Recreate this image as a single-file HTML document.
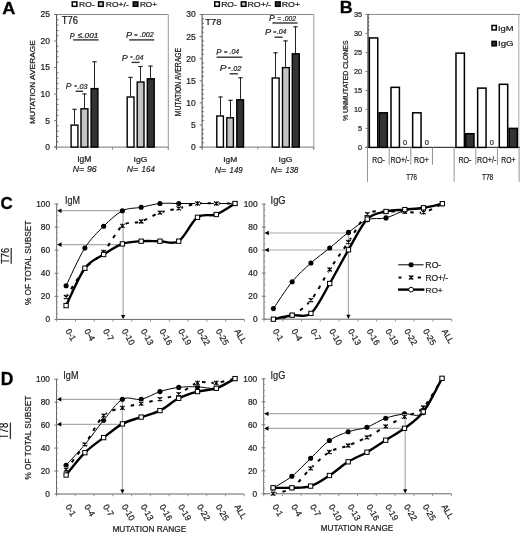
<!DOCTYPE html>
<html><head><meta charset="utf-8"><style>
html,body{margin:0;padding:0;background:#fff;}
body{width:520px;height:533px;overflow:hidden;}
svg{display:block;font-family:"Liberation Sans", sans-serif;filter:blur(0.3px);}
text{stroke:#222;stroke-width:0.22px;}
</style></head><body>
<svg width="520" height="533" viewBox="0 0 520 533" fill="#111">
<text x="2.2" y="13.95" font-size="17.3" font-weight="bold" fill="#000" textLength="13.13" lengthAdjust="spacingAndGlyphs" style="stroke:#000;stroke-width:0.3px">A</text>
<text x="339.85" y="13.2" font-size="17.08" font-weight="bold" fill="#000" textLength="12.9" lengthAdjust="spacingAndGlyphs" style="stroke:#000;stroke-width:0.3px">B</text>
<text x="0.55" y="209.28" font-size="17.23" font-weight="bold" fill="#000" textLength="12.25" lengthAdjust="spacingAndGlyphs" style="stroke:#000;stroke-width:0.3px">C</text>
<text x="0.68" y="385.35" font-size="17.59" font-weight="bold" fill="#000" textLength="12.6" lengthAdjust="spacingAndGlyphs" style="stroke:#000;stroke-width:0.3px">D</text>
<rect x="72.25" y="1.9" width="4.6" height="4.4" fill="#fff" stroke="#000" stroke-width="1.5"/>
<text x="79.1" y="6.6" font-size="7.7" textLength="15.68" lengthAdjust="spacingAndGlyphs">RO-</text>
<rect x="98.55" y="1.9" width="4.6" height="4.4" fill="#c8c8c8" stroke="#000" stroke-width="1.5"/>
<text x="105.8" y="6.6" font-size="7.7" textLength="22.98" lengthAdjust="spacingAndGlyphs">RO+/-</text>
<rect x="133.25" y="1.9" width="4.6" height="4.4" fill="#333" stroke="#000" stroke-width="1.5"/>
<text x="139.93" y="6.6" font-size="7.7" textLength="17.08" lengthAdjust="spacingAndGlyphs">RO+</text>
<rect x="214.75" y="1.9" width="4.6" height="4.4" fill="#fff" stroke="#000" stroke-width="1.5"/>
<text x="221.2" y="6.6" font-size="7.7" textLength="15.68" lengthAdjust="spacingAndGlyphs">RO-</text>
<rect x="241.35" y="1.9" width="4.6" height="4.4" fill="#c8c8c8" stroke="#000" stroke-width="1.5"/>
<text x="247.47" y="6.6" font-size="7.7" textLength="23.82" lengthAdjust="spacingAndGlyphs">RO+/-</text>
<rect x="275.55" y="1.9" width="4.6" height="4.4" fill="#333" stroke="#000" stroke-width="1.5"/>
<text x="281.78" y="6.6" font-size="7.7" textLength="18.25" lengthAdjust="spacingAndGlyphs">RO+</text>
<line x1="56.6" y1="14.5" x2="168.3" y2="14.5" stroke="#888" stroke-width="1"/>
<line x1="168.3" y1="14.5" x2="168.3" y2="149.6" stroke="#999" stroke-width="1"/>
<line x1="56.6" y1="14" x2="56.6" y2="149.6" stroke="#444" stroke-width="1"/>
<line x1="54.1" y1="147.1" x2="168.3" y2="147.1" stroke="#777" stroke-width="1"/>
<line x1="54.1" y1="147.1" x2="56.6" y2="147.1" stroke="#777" stroke-width="1"/>
<line x1="54.1" y1="120.58" x2="56.6" y2="120.58" stroke="#777" stroke-width="1"/>
<line x1="54.1" y1="94.06" x2="56.6" y2="94.06" stroke="#777" stroke-width="1"/>
<line x1="54.1" y1="67.54" x2="56.6" y2="67.54" stroke="#777" stroke-width="1"/>
<line x1="54.1" y1="41.02" x2="56.6" y2="41.02" stroke="#777" stroke-width="1"/>
<line x1="54.1" y1="14.5" x2="56.6" y2="14.5" stroke="#777" stroke-width="1"/>
<line x1="56.6" y1="141.8" x2="58.4" y2="141.8" stroke="#555" stroke-width="0.9"/>
<line x1="56.6" y1="136.49" x2="58.4" y2="136.49" stroke="#555" stroke-width="0.9"/>
<line x1="56.6" y1="131.19" x2="58.4" y2="131.19" stroke="#555" stroke-width="0.9"/>
<line x1="56.6" y1="125.88" x2="58.4" y2="125.88" stroke="#555" stroke-width="0.9"/>
<line x1="56.6" y1="115.28" x2="58.4" y2="115.28" stroke="#555" stroke-width="0.9"/>
<line x1="56.6" y1="109.97" x2="58.4" y2="109.97" stroke="#555" stroke-width="0.9"/>
<line x1="56.6" y1="104.67" x2="58.4" y2="104.67" stroke="#555" stroke-width="0.9"/>
<line x1="56.6" y1="99.36" x2="58.4" y2="99.36" stroke="#555" stroke-width="0.9"/>
<line x1="56.6" y1="88.76" x2="58.4" y2="88.76" stroke="#555" stroke-width="0.9"/>
<line x1="56.6" y1="83.45" x2="58.4" y2="83.45" stroke="#555" stroke-width="0.9"/>
<line x1="56.6" y1="78.15" x2="58.4" y2="78.15" stroke="#555" stroke-width="0.9"/>
<line x1="56.6" y1="72.84" x2="58.4" y2="72.84" stroke="#555" stroke-width="0.9"/>
<line x1="56.6" y1="62.24" x2="58.4" y2="62.24" stroke="#555" stroke-width="0.9"/>
<line x1="56.6" y1="56.93" x2="58.4" y2="56.93" stroke="#555" stroke-width="0.9"/>
<line x1="56.6" y1="51.63" x2="58.4" y2="51.63" stroke="#555" stroke-width="0.9"/>
<line x1="56.6" y1="46.32" x2="58.4" y2="46.32" stroke="#555" stroke-width="0.9"/>
<line x1="56.6" y1="35.72" x2="58.4" y2="35.72" stroke="#555" stroke-width="0.9"/>
<line x1="56.6" y1="30.41" x2="58.4" y2="30.41" stroke="#555" stroke-width="0.9"/>
<line x1="56.6" y1="25.11" x2="58.4" y2="25.11" stroke="#555" stroke-width="0.9"/>
<line x1="56.6" y1="19.8" x2="58.4" y2="19.8" stroke="#555" stroke-width="0.9"/>
<line x1="112.5" y1="147.1" x2="112.5" y2="149.6" stroke="#888" stroke-width="1"/>
<line x1="168.3" y1="147.1" x2="168.3" y2="149.6" stroke="#888" stroke-width="1"/>
<text x="50" y="150.05" font-size="8.5" text-anchor="end" fill="#222">0</text>
<text x="50" y="123.53" font-size="8.5" text-anchor="end" fill="#222">5</text>
<text x="50" y="97.01" font-size="8.5" text-anchor="end" fill="#222">10</text>
<text x="50" y="70.49" font-size="8.5" text-anchor="end" fill="#222">15</text>
<text x="50" y="43.97" font-size="8.5" text-anchor="end" fill="#222">20</text>
<text x="50" y="17.45" font-size="8.5" text-anchor="end" fill="#222">25</text>
<text transform="translate(34.8 124.07) rotate(-90)" x="0" y="0" font-size="7.85" textLength="83.91" lengthAdjust="spacingAndGlyphs">MUTATION AVERAGE</text>
<text x="61.69" y="24.2" font-size="10.17" textLength="16.33" lengthAdjust="spacingAndGlyphs">T76</text>
<line x1="74.5" y1="108.8" x2="74.5" y2="124.4" stroke="#222" stroke-width="1"/>
<line x1="72.3" y1="109.3" x2="76.7" y2="109.3" stroke="#222" stroke-width="1.1"/>
<rect x="71.1" y="125.1" width="6.8" height="22" fill="#fff" stroke="#000" stroke-width="1.4"/>
<line x1="84.5" y1="93.5" x2="84.5" y2="108.1" stroke="#222" stroke-width="1"/>
<line x1="82.3" y1="94" x2="86.7" y2="94" stroke="#222" stroke-width="1.1"/>
<rect x="81" y="108.8" width="6.9" height="38.3" fill="#c4c4c4" stroke="#000" stroke-width="1.4"/>
<line x1="94.5" y1="61.3" x2="94.5" y2="87.9" stroke="#222" stroke-width="1"/>
<line x1="92.3" y1="61.8" x2="96.7" y2="61.8" stroke="#222" stroke-width="1.1"/>
<rect x="91.1" y="88.6" width="6.8" height="58.5" fill="#333" stroke="#000" stroke-width="1.4"/>
<line x1="130.5" y1="76.9" x2="130.5" y2="96.3" stroke="#222" stroke-width="1"/>
<line x1="128.3" y1="77.4" x2="132.7" y2="77.4" stroke="#222" stroke-width="1.1"/>
<rect x="127.2" y="97" width="6.8" height="50.1" fill="#fff" stroke="#000" stroke-width="1.4"/>
<line x1="140.5" y1="66" x2="140.5" y2="81.3" stroke="#222" stroke-width="1"/>
<line x1="138.3" y1="66.5" x2="142.7" y2="66.5" stroke="#222" stroke-width="1.1"/>
<rect x="137.2" y="82" width="6.8" height="65.1" fill="#c4c4c4" stroke="#000" stroke-width="1.4"/>
<line x1="150.5" y1="65.6" x2="150.5" y2="78.1" stroke="#222" stroke-width="1"/>
<line x1="148.3" y1="66.1" x2="152.7" y2="66.1" stroke="#222" stroke-width="1.1"/>
<rect x="147.3" y="78.8" width="6.9" height="68.3" fill="#333" stroke="#000" stroke-width="1.4"/>
<text x="69.78" y="38.6" font-size="9.74" textLength="4.87" lengthAdjust="spacingAndGlyphs" font-style="italic" fill="#222">P</text>
<text x="77.75" y="37.8" font-size="7.85" textLength="20.55" lengthAdjust="spacingAndGlyphs" font-style="italic" fill="#222">≤.001</text>
<line x1="73.2" y1="39.9" x2="98.6" y2="39.9" stroke="#333" stroke-width="1.4"/>
<text x="65.74" y="89.4" font-size="9.16" textLength="5.61" lengthAdjust="spacingAndGlyphs" font-style="italic" fill="#222">P</text>
<text x="74.2" y="88.09" font-size="6.21" textLength="2.7" lengthAdjust="spacingAndGlyphs" fill="#555">=</text>
<text x="77.52" y="88.7" font-size="7.7" textLength="10.05" lengthAdjust="spacingAndGlyphs" font-style="italic" fill="#222">.03</text>
<line x1="75.6" y1="91.25" x2="83.1" y2="91.25" stroke="#333" stroke-width="1.4"/>
<text x="126.12" y="38.2" font-size="9.01" textLength="6.04" lengthAdjust="spacingAndGlyphs" font-style="italic" fill="#222">P</text>
<text x="134.3" y="36.99" font-size="6.21" textLength="3.3" lengthAdjust="spacingAndGlyphs" fill="#555">=</text>
<text x="139.92" y="37.4" font-size="7.85" textLength="13.78" lengthAdjust="spacingAndGlyphs" font-style="italic" fill="#222">.002</text>
<line x1="129.2" y1="39.9" x2="154.2" y2="39.9" stroke="#333" stroke-width="1.4"/>
<text x="121.73" y="60.5" font-size="9.16" textLength="5.93" lengthAdjust="spacingAndGlyphs" font-style="italic" fill="#222">P</text>
<text x="130.2" y="58.69" font-size="6.21" textLength="2.4" lengthAdjust="spacingAndGlyphs" fill="#555">=</text>
<text x="133.52" y="59.6" font-size="7.85" textLength="9.95" lengthAdjust="spacingAndGlyphs" font-style="italic" fill="#222">.04</text>
<line x1="131.6" y1="62.4" x2="139.6" y2="62.4" stroke="#333" stroke-width="1.4"/>
<text x="77.21" y="161.6" font-size="8.14" textLength="14.18" lengthAdjust="spacingAndGlyphs" fill="#222">IgM</text>
<text x="72.83" y="172.2" font-size="9.3" textLength="11.37" lengthAdjust="spacingAndGlyphs" font-style="italic" fill="#222">N=</text>
<text x="86.9" y="172.2" font-size="9.3" textLength="9.7" lengthAdjust="spacingAndGlyphs" font-style="italic" fill="#222">96</text>
<text x="133.51" y="161.6" font-size="7.56" textLength="13.83" lengthAdjust="spacingAndGlyphs" fill="#222">IgG</text>
<text x="126.83" y="172.4" font-size="9.45" textLength="11.37" lengthAdjust="spacingAndGlyphs" font-style="italic" fill="#222">N=</text>
<text x="141.6" y="172.4" font-size="9.45" textLength="13.2" lengthAdjust="spacingAndGlyphs" font-style="italic" fill="#222">164</text>
<line x1="202.1" y1="14.5" x2="313.8" y2="14.5" stroke="#888" stroke-width="1"/>
<line x1="313.8" y1="14.5" x2="313.8" y2="149.6" stroke="#999" stroke-width="1"/>
<line x1="202.1" y1="14" x2="202.1" y2="149.6" stroke="#444" stroke-width="1"/>
<line x1="199.6" y1="147.1" x2="313.8" y2="147.1" stroke="#777" stroke-width="1"/>
<line x1="199.6" y1="147.1" x2="202.1" y2="147.1" stroke="#777" stroke-width="1"/>
<line x1="199.6" y1="125" x2="202.1" y2="125" stroke="#777" stroke-width="1"/>
<line x1="199.6" y1="102.9" x2="202.1" y2="102.9" stroke="#777" stroke-width="1"/>
<line x1="199.6" y1="80.8" x2="202.1" y2="80.8" stroke="#777" stroke-width="1"/>
<line x1="199.6" y1="58.7" x2="202.1" y2="58.7" stroke="#777" stroke-width="1"/>
<line x1="199.6" y1="36.6" x2="202.1" y2="36.6" stroke="#777" stroke-width="1"/>
<line x1="199.6" y1="14.5" x2="202.1" y2="14.5" stroke="#777" stroke-width="1"/>
<line x1="202.1" y1="142.68" x2="203.9" y2="142.68" stroke="#555" stroke-width="0.9"/>
<line x1="202.1" y1="138.26" x2="203.9" y2="138.26" stroke="#555" stroke-width="0.9"/>
<line x1="202.1" y1="133.84" x2="203.9" y2="133.84" stroke="#555" stroke-width="0.9"/>
<line x1="202.1" y1="129.42" x2="203.9" y2="129.42" stroke="#555" stroke-width="0.9"/>
<line x1="202.1" y1="120.58" x2="203.9" y2="120.58" stroke="#555" stroke-width="0.9"/>
<line x1="202.1" y1="116.16" x2="203.9" y2="116.16" stroke="#555" stroke-width="0.9"/>
<line x1="202.1" y1="111.74" x2="203.9" y2="111.74" stroke="#555" stroke-width="0.9"/>
<line x1="202.1" y1="107.32" x2="203.9" y2="107.32" stroke="#555" stroke-width="0.9"/>
<line x1="202.1" y1="98.48" x2="203.9" y2="98.48" stroke="#555" stroke-width="0.9"/>
<line x1="202.1" y1="94.06" x2="203.9" y2="94.06" stroke="#555" stroke-width="0.9"/>
<line x1="202.1" y1="89.64" x2="203.9" y2="89.64" stroke="#555" stroke-width="0.9"/>
<line x1="202.1" y1="85.22" x2="203.9" y2="85.22" stroke="#555" stroke-width="0.9"/>
<line x1="202.1" y1="76.38" x2="203.9" y2="76.38" stroke="#555" stroke-width="0.9"/>
<line x1="202.1" y1="71.96" x2="203.9" y2="71.96" stroke="#555" stroke-width="0.9"/>
<line x1="202.1" y1="67.54" x2="203.9" y2="67.54" stroke="#555" stroke-width="0.9"/>
<line x1="202.1" y1="63.12" x2="203.9" y2="63.12" stroke="#555" stroke-width="0.9"/>
<line x1="202.1" y1="54.28" x2="203.9" y2="54.28" stroke="#555" stroke-width="0.9"/>
<line x1="202.1" y1="49.86" x2="203.9" y2="49.86" stroke="#555" stroke-width="0.9"/>
<line x1="202.1" y1="45.44" x2="203.9" y2="45.44" stroke="#555" stroke-width="0.9"/>
<line x1="202.1" y1="41.02" x2="203.9" y2="41.02" stroke="#555" stroke-width="0.9"/>
<line x1="202.1" y1="32.18" x2="203.9" y2="32.18" stroke="#555" stroke-width="0.9"/>
<line x1="202.1" y1="27.76" x2="203.9" y2="27.76" stroke="#555" stroke-width="0.9"/>
<line x1="202.1" y1="23.34" x2="203.9" y2="23.34" stroke="#555" stroke-width="0.9"/>
<line x1="202.1" y1="18.92" x2="203.9" y2="18.92" stroke="#555" stroke-width="0.9"/>
<line x1="257.8" y1="147.1" x2="257.8" y2="149.6" stroke="#888" stroke-width="1"/>
<line x1="313.8" y1="147.1" x2="313.8" y2="149.6" stroke="#888" stroke-width="1"/>
<text x="195.8" y="150.05" font-size="8.5" text-anchor="end" fill="#222">0</text>
<text x="195.8" y="127.95" font-size="8.5" text-anchor="end" fill="#222">5</text>
<text x="195.8" y="105.85" font-size="8.5" text-anchor="end" fill="#222">10</text>
<text x="195.8" y="83.75" font-size="8.5" text-anchor="end" fill="#222">15</text>
<text x="195.8" y="61.65" font-size="8.5" text-anchor="end" fill="#222">20</text>
<text x="195.8" y="39.55" font-size="8.5" text-anchor="end" fill="#222">25</text>
<text x="195.8" y="17.45" font-size="8.5" text-anchor="end" fill="#222">30</text>
<text transform="translate(180.8 116.24) rotate(-90)" x="0" y="0" font-size="8.72" textLength="68.33" lengthAdjust="spacingAndGlyphs">MUTATION AVERAGE</text>
<text x="205.19" y="24.6" font-size="9.74" textLength="16.22" lengthAdjust="spacingAndGlyphs">T78</text>
<line x1="220.5" y1="96.5" x2="220.5" y2="115.3" stroke="#222" stroke-width="1"/>
<line x1="218.3" y1="97" x2="222.7" y2="97" stroke="#222" stroke-width="1.1"/>
<rect x="216.8" y="116" width="6.6" height="31.1" fill="#fff" stroke="#000" stroke-width="1.4"/>
<line x1="230.5" y1="99.8" x2="230.5" y2="117.1" stroke="#222" stroke-width="1"/>
<line x1="228.3" y1="100.3" x2="232.7" y2="100.3" stroke="#222" stroke-width="1.1"/>
<rect x="226.8" y="117.8" width="6.6" height="29.3" fill="#c4c4c4" stroke="#000" stroke-width="1.4"/>
<line x1="240.5" y1="77.3" x2="240.5" y2="99.1" stroke="#222" stroke-width="1"/>
<line x1="238.3" y1="77.8" x2="242.7" y2="77.8" stroke="#222" stroke-width="1.1"/>
<rect x="236.8" y="99.8" width="6.7" height="47.3" fill="#333" stroke="#000" stroke-width="1.4"/>
<line x1="275.5" y1="52.3" x2="275.5" y2="77.3" stroke="#222" stroke-width="1"/>
<line x1="273.3" y1="52.8" x2="277.7" y2="52.8" stroke="#222" stroke-width="1.1"/>
<rect x="272.2" y="78" width="6.9" height="69.1" fill="#fff" stroke="#000" stroke-width="1.4"/>
<line x1="285.5" y1="40.4" x2="285.5" y2="66.9" stroke="#222" stroke-width="1"/>
<line x1="283.3" y1="40.9" x2="287.7" y2="40.9" stroke="#222" stroke-width="1.1"/>
<rect x="282.5" y="67.6" width="6.8" height="79.5" fill="#c4c4c4" stroke="#000" stroke-width="1.4"/>
<line x1="295.5" y1="26.3" x2="295.5" y2="53.1" stroke="#222" stroke-width="1"/>
<line x1="293.3" y1="26.8" x2="297.7" y2="26.8" stroke="#222" stroke-width="1.1"/>
<rect x="292.3" y="53.8" width="7" height="93.3" fill="#333" stroke="#000" stroke-width="1.4"/>
<text x="216.16" y="54.9" font-size="9.3" textLength="5.19" lengthAdjust="spacingAndGlyphs" font-style="italic" fill="#222">P</text>
<text x="223.9" y="53.66" font-size="6" textLength="3.4" lengthAdjust="spacingAndGlyphs" fill="#555">=</text>
<text x="229.53" y="54.3" font-size="7.99" textLength="9.63" lengthAdjust="spacingAndGlyphs" font-style="italic" fill="#222">.04</text>
<line x1="216.6" y1="57.2" x2="242.4" y2="57.2" stroke="#333" stroke-width="1.4"/>
<text x="219.89" y="71" font-size="8.58" textLength="6.67" lengthAdjust="spacingAndGlyphs" font-style="italic" fill="#222">P</text>
<text x="227.9" y="70.09" font-size="6.21" textLength="2.7" lengthAdjust="spacingAndGlyphs" fill="#555">=</text>
<text x="231.22" y="70.5" font-size="7.41" textLength="10.09" lengthAdjust="spacingAndGlyphs" font-style="italic" fill="#222">.02</text>
<line x1="229.6" y1="73.8" x2="237.9" y2="73.8" stroke="#333" stroke-width="1.4"/>
<text x="269.03" y="21.3" font-size="8.43" textLength="5.82" lengthAdjust="spacingAndGlyphs" font-style="italic" fill="#222">P</text>
<text x="277.6" y="20.75" font-size="7.14" textLength="3.5" lengthAdjust="spacingAndGlyphs" fill="#555">=</text>
<text x="282.94" y="20.6" font-size="7.41" textLength="13.16" lengthAdjust="spacingAndGlyphs" font-style="italic" fill="#222">.002</text>
<line x1="272.4" y1="23" x2="297.6" y2="23" stroke="#333" stroke-width="1.4"/>
<text x="265.02" y="35.2" font-size="9.01" textLength="6.14" lengthAdjust="spacingAndGlyphs" font-style="italic" fill="#222">P</text>
<text x="273.2" y="33.66" font-size="6" textLength="3.1" lengthAdjust="spacingAndGlyphs" fill="#555">=</text>
<text x="276.73" y="33.7" font-size="6.83" textLength="9.63" lengthAdjust="spacingAndGlyphs" font-style="italic" fill="#222">.04</text>
<line x1="274.6" y1="37.2" x2="282.6" y2="37.2" stroke="#333" stroke-width="1.4"/>
<text x="223.22" y="161.9" font-size="7.56" textLength="14.07" lengthAdjust="spacingAndGlyphs" fill="#222">IgM</text>
<text x="214.83" y="172.5" font-size="9.59" textLength="11.37" lengthAdjust="spacingAndGlyphs" font-style="italic" fill="#222">N=</text>
<text x="229.6" y="172.5" font-size="9.59" textLength="13.06" lengthAdjust="spacingAndGlyphs" font-style="italic" fill="#222">149</text>
<text x="278.61" y="161.8" font-size="7.41" textLength="13.83" lengthAdjust="spacingAndGlyphs" fill="#222">IgG</text>
<text x="270.73" y="172.6" font-size="9.59" textLength="11.37" lengthAdjust="spacingAndGlyphs" font-style="italic" fill="#222">N=</text>
<text x="285.5" y="172.6" font-size="9.59" textLength="12.84" lengthAdjust="spacingAndGlyphs" font-style="italic" fill="#222">138</text>
<line x1="368" y1="14.4" x2="520" y2="14.4" stroke="#888" stroke-width="1"/>
<line x1="518.8" y1="14.4" x2="518.8" y2="147.4" stroke="#aaa" stroke-width="1"/>
<line x1="368" y1="13.9" x2="368" y2="147.4" stroke="#222" stroke-width="1.1"/>
<line x1="365.5" y1="147.4" x2="520" y2="147.4" stroke="#444" stroke-width="1.2"/>
<line x1="365.5" y1="147.4" x2="368" y2="147.4" stroke="#777" stroke-width="1"/>
<text x="362" y="149.95" font-size="7.3" text-anchor="end" fill="#222">0</text>
<line x1="368" y1="143.6" x2="369.5" y2="143.6" stroke="#555" stroke-width="0.8"/>
<line x1="368" y1="139.8" x2="369.5" y2="139.8" stroke="#555" stroke-width="0.8"/>
<line x1="368" y1="136" x2="369.5" y2="136" stroke="#555" stroke-width="0.8"/>
<line x1="368" y1="132.2" x2="369.5" y2="132.2" stroke="#555" stroke-width="0.8"/>
<line x1="365.5" y1="128.4" x2="368" y2="128.4" stroke="#777" stroke-width="1"/>
<text x="362" y="130.95" font-size="7.3" text-anchor="end" fill="#222">5</text>
<line x1="368" y1="124.6" x2="369.5" y2="124.6" stroke="#555" stroke-width="0.8"/>
<line x1="368" y1="120.8" x2="369.5" y2="120.8" stroke="#555" stroke-width="0.8"/>
<line x1="368" y1="117" x2="369.5" y2="117" stroke="#555" stroke-width="0.8"/>
<line x1="368" y1="113.2" x2="369.5" y2="113.2" stroke="#555" stroke-width="0.8"/>
<line x1="365.5" y1="109.4" x2="368" y2="109.4" stroke="#777" stroke-width="1"/>
<text x="362" y="111.95" font-size="7.3" text-anchor="end" fill="#222">10</text>
<line x1="368" y1="105.6" x2="369.5" y2="105.6" stroke="#555" stroke-width="0.8"/>
<line x1="368" y1="101.8" x2="369.5" y2="101.8" stroke="#555" stroke-width="0.8"/>
<line x1="368" y1="98" x2="369.5" y2="98" stroke="#555" stroke-width="0.8"/>
<line x1="368" y1="94.2" x2="369.5" y2="94.2" stroke="#555" stroke-width="0.8"/>
<line x1="365.5" y1="90.4" x2="368" y2="90.4" stroke="#777" stroke-width="1"/>
<text x="362" y="92.95" font-size="7.3" text-anchor="end" fill="#222">15</text>
<line x1="368" y1="86.6" x2="369.5" y2="86.6" stroke="#555" stroke-width="0.8"/>
<line x1="368" y1="82.8" x2="369.5" y2="82.8" stroke="#555" stroke-width="0.8"/>
<line x1="368" y1="79" x2="369.5" y2="79" stroke="#555" stroke-width="0.8"/>
<line x1="368" y1="75.2" x2="369.5" y2="75.2" stroke="#555" stroke-width="0.8"/>
<line x1="365.5" y1="71.4" x2="368" y2="71.4" stroke="#777" stroke-width="1"/>
<text x="362" y="73.95" font-size="7.3" text-anchor="end" fill="#222">20</text>
<line x1="368" y1="67.6" x2="369.5" y2="67.6" stroke="#555" stroke-width="0.8"/>
<line x1="368" y1="63.8" x2="369.5" y2="63.8" stroke="#555" stroke-width="0.8"/>
<line x1="368" y1="60" x2="369.5" y2="60" stroke="#555" stroke-width="0.8"/>
<line x1="368" y1="56.2" x2="369.5" y2="56.2" stroke="#555" stroke-width="0.8"/>
<line x1="365.5" y1="52.4" x2="368" y2="52.4" stroke="#777" stroke-width="1"/>
<text x="362" y="54.95" font-size="7.3" text-anchor="end" fill="#222">25</text>
<line x1="368" y1="48.6" x2="369.5" y2="48.6" stroke="#555" stroke-width="0.8"/>
<line x1="368" y1="44.8" x2="369.5" y2="44.8" stroke="#555" stroke-width="0.8"/>
<line x1="368" y1="41" x2="369.5" y2="41" stroke="#555" stroke-width="0.8"/>
<line x1="368" y1="37.2" x2="369.5" y2="37.2" stroke="#555" stroke-width="0.8"/>
<line x1="365.5" y1="33.4" x2="368" y2="33.4" stroke="#777" stroke-width="1"/>
<text x="362" y="35.95" font-size="7.3" text-anchor="end" fill="#222">30</text>
<line x1="368" y1="29.6" x2="369.5" y2="29.6" stroke="#555" stroke-width="0.8"/>
<line x1="368" y1="25.8" x2="369.5" y2="25.8" stroke="#555" stroke-width="0.8"/>
<line x1="368" y1="22" x2="369.5" y2="22" stroke="#555" stroke-width="0.8"/>
<line x1="368" y1="18.2" x2="369.5" y2="18.2" stroke="#555" stroke-width="0.8"/>
<line x1="365.5" y1="14.4" x2="368" y2="14.4" stroke="#777" stroke-width="1"/>
<text x="362" y="16.95" font-size="7.3" text-anchor="end" fill="#222">35</text>
<text transform="translate(347.9 121.04) rotate(-90)" x="0" y="0" font-size="7.7" textLength="80.56" lengthAdjust="spacingAndGlyphs">% UNMUTATED CLONES</text>
<rect x="369.35" y="37.95" width="8.4" height="109.45" fill="#fff" stroke="#000" stroke-width="1.5"/>
<rect x="379.15" y="112.81" width="8.2" height="34.59" fill="#333" stroke="#000" stroke-width="1.5"/>
<rect x="391.01" y="87.35" width="8.4" height="60.05" fill="#fff" stroke="#000" stroke-width="1.5"/>
<text x="405.16" y="144.5" font-size="7.4" text-anchor="middle" fill="#333">0</text>
<rect x="412.66" y="112.81" width="8.4" height="34.59" fill="#fff" stroke="#000" stroke-width="1.5"/>
<text x="426.81" y="144.5" font-size="7.4" text-anchor="middle" fill="#333">0</text>
<rect x="455.98" y="53.15" width="8.4" height="94.25" fill="#fff" stroke="#000" stroke-width="1.5"/>
<rect x="465.78" y="133.71" width="8.2" height="13.69" fill="#333" stroke="#000" stroke-width="1.5"/>
<rect x="477.64" y="88.11" width="8.4" height="59.29" fill="#fff" stroke="#000" stroke-width="1.5"/>
<text x="491.79" y="144.5" font-size="7.4" text-anchor="middle" fill="#333">0</text>
<rect x="499.29" y="84.31" width="8.4" height="63.09" fill="#fff" stroke="#000" stroke-width="1.5"/>
<rect x="509.09" y="128.39" width="8.2" height="19.01" fill="#333" stroke="#000" stroke-width="1.5"/>
<line x1="367.5" y1="147.4" x2="367.5" y2="181.8" stroke="#888" stroke-width="0.9"/>
<line x1="389.16" y1="147.4" x2="389.16" y2="164.8" stroke="#888" stroke-width="0.9"/>
<line x1="410.81" y1="147.4" x2="410.81" y2="164.8" stroke="#888" stroke-width="0.9"/>
<line x1="432.47" y1="147.4" x2="432.47" y2="164.8" stroke="#888" stroke-width="0.9"/>
<line x1="454.13" y1="147.4" x2="454.13" y2="181.8" stroke="#888" stroke-width="0.9"/>
<line x1="475.79" y1="147.4" x2="475.79" y2="164.8" stroke="#888" stroke-width="0.9"/>
<line x1="497.44" y1="147.4" x2="497.44" y2="164.8" stroke="#888" stroke-width="0.9"/>
<line x1="519.1" y1="147.4" x2="519.1" y2="181.8" stroke="#888" stroke-width="0.9"/>
<text x="372.34" y="163.1" font-size="8.14" textLength="12.57" lengthAdjust="spacingAndGlyphs" fill="#222">RO-</text>
<text x="390.53" y="163.1" font-size="8.14" textLength="18.89" lengthAdjust="spacingAndGlyphs" fill="#222">RO+/-</text>
<text x="414.12" y="163.1" font-size="8.14" textLength="14.62" lengthAdjust="spacingAndGlyphs" fill="#222">RO+</text>
<text x="458.41" y="163.1" font-size="8.14" textLength="13.1" lengthAdjust="spacingAndGlyphs" fill="#222">RO-</text>
<text x="477.12" y="163.1" font-size="8.14" textLength="19.2" lengthAdjust="spacingAndGlyphs" fill="#222">RO+/-</text>
<text x="501.34" y="163.1" font-size="8.14" textLength="14.19" lengthAdjust="spacingAndGlyphs" fill="#222">RO+</text>
<text x="406.26" y="179.7" font-size="8.58" textLength="10.82" lengthAdjust="spacingAndGlyphs" fill="#222">T76</text>
<text x="481.95" y="179.7" font-size="8.58" textLength="11.23" lengthAdjust="spacingAndGlyphs" fill="#222">T78</text>
<rect x="492" y="25.5" width="4.3" height="4.4" fill="#fff" stroke="#000" stroke-width="1.5"/>
<text x="498.03" y="30.8" font-size="7.85" textLength="15.63" lengthAdjust="spacingAndGlyphs" fill="#222">IgM</text>
<rect x="492" y="41.4" width="4.3" height="4.4" fill="#333" stroke="#000" stroke-width="1.5"/>
<text x="498.01" y="46.2" font-size="7.85" textLength="15.62" lengthAdjust="spacingAndGlyphs" fill="#222">IgG</text>
<line x1="56.7" y1="203.7" x2="56.7" y2="319.4" stroke="#666" stroke-width="1"/>
<line x1="56.7" y1="319.4" x2="244.4" y2="319.4" stroke="#666" stroke-width="1"/>
<line x1="54.5" y1="319.4" x2="58.5" y2="319.4" stroke="#777" stroke-width="1"/>
<text x="50" y="322.25" font-size="8.3" text-anchor="end" fill="#222">0</text>
<line x1="56.7" y1="313.63" x2="58.3" y2="313.63" stroke="#999" stroke-width="0.8"/>
<line x1="56.7" y1="307.86" x2="58.3" y2="307.86" stroke="#999" stroke-width="0.8"/>
<line x1="56.7" y1="302.09" x2="58.3" y2="302.09" stroke="#999" stroke-width="0.8"/>
<line x1="54.5" y1="296.32" x2="58.5" y2="296.32" stroke="#777" stroke-width="1"/>
<text x="50" y="299.17" font-size="8.3" text-anchor="end" fill="#222">20</text>
<line x1="56.7" y1="290.55" x2="58.3" y2="290.55" stroke="#999" stroke-width="0.8"/>
<line x1="56.7" y1="284.78" x2="58.3" y2="284.78" stroke="#999" stroke-width="0.8"/>
<line x1="56.7" y1="279.01" x2="58.3" y2="279.01" stroke="#999" stroke-width="0.8"/>
<line x1="54.5" y1="273.24" x2="58.5" y2="273.24" stroke="#777" stroke-width="1"/>
<text x="50" y="276.09" font-size="8.3" text-anchor="end" fill="#222">40</text>
<line x1="56.7" y1="267.47" x2="58.3" y2="267.47" stroke="#999" stroke-width="0.8"/>
<line x1="56.7" y1="261.7" x2="58.3" y2="261.7" stroke="#999" stroke-width="0.8"/>
<line x1="56.7" y1="255.93" x2="58.3" y2="255.93" stroke="#999" stroke-width="0.8"/>
<line x1="54.5" y1="250.16" x2="58.5" y2="250.16" stroke="#777" stroke-width="1"/>
<text x="50" y="253.01" font-size="8.3" text-anchor="end" fill="#222">60</text>
<line x1="56.7" y1="244.39" x2="58.3" y2="244.39" stroke="#999" stroke-width="0.8"/>
<line x1="56.7" y1="238.62" x2="58.3" y2="238.62" stroke="#999" stroke-width="0.8"/>
<line x1="56.7" y1="232.85" x2="58.3" y2="232.85" stroke="#999" stroke-width="0.8"/>
<line x1="54.5" y1="227.08" x2="58.5" y2="227.08" stroke="#777" stroke-width="1"/>
<text x="50" y="229.93" font-size="8.3" text-anchor="end" fill="#222">80</text>
<line x1="56.7" y1="221.31" x2="58.3" y2="221.31" stroke="#999" stroke-width="0.8"/>
<line x1="56.7" y1="215.54" x2="58.3" y2="215.54" stroke="#999" stroke-width="0.8"/>
<line x1="56.7" y1="209.77" x2="58.3" y2="209.77" stroke="#999" stroke-width="0.8"/>
<line x1="54.5" y1="204" x2="58.5" y2="204" stroke="#777" stroke-width="1"/>
<text x="50" y="206.85" font-size="8.3" text-anchor="end" fill="#222">100</text>
<line x1="56.7" y1="319.4" x2="56.7" y2="321.7" stroke="#888" stroke-width="0.9"/>
<line x1="75.47" y1="319.4" x2="75.47" y2="321.7" stroke="#888" stroke-width="0.9"/>
<line x1="94.24" y1="319.4" x2="94.24" y2="321.7" stroke="#888" stroke-width="0.9"/>
<line x1="113.01" y1="319.4" x2="113.01" y2="321.7" stroke="#888" stroke-width="0.9"/>
<line x1="131.78" y1="319.4" x2="131.78" y2="321.7" stroke="#888" stroke-width="0.9"/>
<line x1="150.55" y1="319.4" x2="150.55" y2="321.7" stroke="#888" stroke-width="0.9"/>
<line x1="169.32" y1="319.4" x2="169.32" y2="321.7" stroke="#888" stroke-width="0.9"/>
<line x1="188.09" y1="319.4" x2="188.09" y2="321.7" stroke="#888" stroke-width="0.9"/>
<line x1="206.86" y1="319.4" x2="206.86" y2="321.7" stroke="#888" stroke-width="0.9"/>
<line x1="225.63" y1="319.4" x2="225.63" y2="321.7" stroke="#888" stroke-width="0.9"/>
<line x1="244.4" y1="319.4" x2="244.4" y2="321.7" stroke="#888" stroke-width="0.9"/>
<text x="64.97" y="204.1" font-size="10.61" textLength="14.96" lengthAdjust="spacingAndGlyphs" fill="#222">IgM</text>
<text transform="translate(65.3 331) rotate(60)" x="0" y="0" font-size="8.6" fill="#222">0-1</text>
<text transform="translate(84.07 331) rotate(60)" x="0" y="0" font-size="8.6" fill="#222">0-4</text>
<text transform="translate(102.84 331) rotate(60)" x="0" y="0" font-size="8.6" fill="#222">0-7</text>
<text transform="translate(121.61 331) rotate(60)" x="0" y="0" font-size="8.6" fill="#222">0-10</text>
<text transform="translate(140.38 331) rotate(60)" x="0" y="0" font-size="8.6" fill="#222">0-13</text>
<text transform="translate(159.15 331) rotate(60)" x="0" y="0" font-size="8.6" fill="#222">0-16</text>
<text transform="translate(177.92 331) rotate(60)" x="0" y="0" font-size="8.6" fill="#222">0-19</text>
<text transform="translate(196.69 331) rotate(60)" x="0" y="0" font-size="8.6" fill="#222">0-22</text>
<text transform="translate(215.46 331) rotate(60)" x="0" y="0" font-size="8.6" fill="#222">0-25</text>
<text transform="translate(234.23 331) rotate(60)" x="0" y="0" font-size="8.6" fill="#222">ALL</text>
<line x1="60.2" y1="210.7" x2="123.1" y2="210.7" stroke="#aaa" stroke-width="1.2"/>
<path d="M57.2 210.7L61.5 208.4L61.5 213Z" fill="#000"/>
<line x1="60.2" y1="244.6" x2="123.1" y2="244.6" stroke="#aaa" stroke-width="1.2"/>
<path d="M57.2 244.6L61.5 242.3L61.5 246.9Z" fill="#000"/>
<line x1="123.1" y1="210.1" x2="123.1" y2="315.9" stroke="#aaa" stroke-width="1.2"/>
<path d="M123.1 319.2L121 314.9L125.2 314.9Z" fill="#000"/>
<path d="M66.1 285.7 C69.23 279.42 78.61 257.9 84.87 248 C91.13 238.1 97.38 232.5 103.64 226.3 C109.9 220.1 116.15 213.97 122.41 210.8 C128.67 207.63 134.92 208.52 141.18 207.3 C147.44 206.08 153.69 204.13 159.95 203.5 C166.21 202.87 172.46 203.5 178.72 203.5 C184.98 203.5 191.23 203.5 197.49 203.5 C203.75 203.5 210 203.5 216.26 203.5 C222.52 203.5 231.9 203.5 235.03 203.5" stroke="#000" stroke-width="1" fill="none"/>
<circle cx="66.1" cy="285.7" r="2.55" fill="#000"/>
<circle cx="84.87" cy="248" r="2.55" fill="#000"/>
<circle cx="103.64" cy="226.3" r="2.55" fill="#000"/>
<circle cx="122.41" cy="210.8" r="2.55" fill="#000"/>
<circle cx="141.18" cy="207.3" r="2.55" fill="#000"/>
<circle cx="159.95" cy="203.5" r="2.55" fill="#000"/>
<circle cx="178.72" cy="203.5" r="2.55" fill="#000"/>
<circle cx="197.49" cy="203.5" r="2.55" fill="#000"/>
<circle cx="216.26" cy="203.5" r="2.55" fill="#000"/>
<circle cx="235.03" cy="203.5" r="2.55" fill="#000"/>
<path d="M66.1 297 C69.23 292.3 78.61 276.3 84.87 268.8 C91.13 261.3 97.38 259.17 103.64 252 C109.9 244.83 116.15 230.88 122.41 225.8 C128.67 220.72 134.92 223.7 141.18 221.5 C147.44 219.3 153.69 214.78 159.95 212.6 C166.21 210.42 172.46 209.92 178.72 208.4 C184.98 206.88 191.23 204.32 197.49 203.5 C203.75 202.68 210 203.5 216.26 203.5 C222.52 203.5 231.9 203.5 235.03 203.5" stroke="#000" stroke-width="2" fill="none" stroke-dasharray="3.5 6"/>
<rect x="63.6" y="294.5" width="5" height="5" fill="#fff"/>
<path d="M63.9 295L68.3 299M68.3 295L63.9 299M66.1 294.8L66.1 299.2" stroke="#000" stroke-width="1.1" fill="none"/>
<rect x="82.37" y="266.3" width="5" height="5" fill="#fff"/>
<path d="M82.67 266.8L87.07 270.8M87.07 266.8L82.67 270.8M84.87 266.6L84.87 271" stroke="#000" stroke-width="1.1" fill="none"/>
<rect x="101.14" y="249.5" width="5" height="5" fill="#fff"/>
<path d="M101.44 250L105.84 254M105.84 250L101.44 254M103.64 249.8L103.64 254.2" stroke="#000" stroke-width="1.1" fill="none"/>
<rect x="119.91" y="223.3" width="5" height="5" fill="#fff"/>
<path d="M120.21 223.8L124.61 227.8M124.61 223.8L120.21 227.8M122.41 223.6L122.41 228" stroke="#000" stroke-width="1.1" fill="none"/>
<rect x="138.68" y="219" width="5" height="5" fill="#fff"/>
<path d="M138.98 219.5L143.38 223.5M143.38 219.5L138.98 223.5M141.18 219.3L141.18 223.7" stroke="#000" stroke-width="1.1" fill="none"/>
<rect x="157.45" y="210.1" width="5" height="5" fill="#fff"/>
<path d="M157.75 210.6L162.15 214.6M162.15 210.6L157.75 214.6M159.95 210.4L159.95 214.8" stroke="#000" stroke-width="1.1" fill="none"/>
<rect x="176.22" y="205.9" width="5" height="5" fill="#fff"/>
<path d="M176.52 206.4L180.92 210.4M180.92 206.4L176.52 210.4M178.72 206.2L178.72 210.6" stroke="#000" stroke-width="1.1" fill="none"/>
<rect x="194.99" y="201" width="5" height="5" fill="#fff"/>
<path d="M195.29 201.5L199.69 205.5M199.69 201.5L195.29 205.5M197.49 201.3L197.49 205.7" stroke="#000" stroke-width="1.1" fill="none"/>
<rect x="213.76" y="201" width="5" height="5" fill="#fff"/>
<path d="M214.06 201.5L218.46 205.5M218.46 201.5L214.06 205.5M216.26 201.3L216.26 205.7" stroke="#000" stroke-width="1.1" fill="none"/>
<rect x="232.53" y="201" width="5" height="5" fill="#fff"/>
<path d="M232.83 201.5L237.23 205.5M237.23 201.5L232.83 205.5M235.03 201.3L235.03 205.7" stroke="#000" stroke-width="1.1" fill="none"/>
<path d="M66.1 305.6 C69.23 299.37 78.61 276.72 84.87 268.2 C91.13 259.68 97.38 258.55 103.64 254.5 C109.9 250.45 116.15 246.12 122.41 243.9 C128.67 241.68 134.92 241.65 141.18 241.2 C147.44 240.75 153.69 241.2 159.95 241.2 C166.21 241.2 172.46 245.18 178.72 241.2 C184.98 237.22 191.23 221.75 197.49 217.3 C203.75 212.85 210 216.8 216.26 214.5 C222.52 212.2 231.9 205.33 235.03 203.5" stroke="#000" stroke-width="2.4" fill="none"/>
<rect x="63.95" y="303.45" width="4.3" height="4.3" fill="#fff" stroke="#000" stroke-width="1"/>
<rect x="82.72" y="266.05" width="4.3" height="4.3" fill="#fff" stroke="#000" stroke-width="1"/>
<rect x="101.49" y="252.35" width="4.3" height="4.3" fill="#fff" stroke="#000" stroke-width="1"/>
<rect x="120.26" y="241.75" width="4.3" height="4.3" fill="#fff" stroke="#000" stroke-width="1"/>
<rect x="139.03" y="239.05" width="4.3" height="4.3" fill="#fff" stroke="#000" stroke-width="1"/>
<rect x="157.8" y="239.05" width="4.3" height="4.3" fill="#fff" stroke="#000" stroke-width="1"/>
<rect x="176.57" y="239.05" width="4.3" height="4.3" fill="#fff" stroke="#000" stroke-width="1"/>
<rect x="195.34" y="215.15" width="4.3" height="4.3" fill="#fff" stroke="#000" stroke-width="1"/>
<rect x="214.11" y="212.35" width="4.3" height="4.3" fill="#fff" stroke="#000" stroke-width="1"/>
<rect x="232.88" y="201.35" width="4.3" height="4.3" fill="#fff" stroke="#000" stroke-width="1"/>
<line x1="264" y1="203.8" x2="264" y2="319.2" stroke="#666" stroke-width="1"/>
<line x1="264" y1="319.2" x2="451.7" y2="319.2" stroke="#666" stroke-width="1"/>
<line x1="261.8" y1="319.2" x2="265.8" y2="319.2" stroke="#777" stroke-width="1"/>
<text x="257.6" y="322.05" font-size="8.3" text-anchor="end" fill="#222">0</text>
<line x1="264" y1="313.44" x2="265.6" y2="313.44" stroke="#999" stroke-width="0.8"/>
<line x1="264" y1="307.69" x2="265.6" y2="307.69" stroke="#999" stroke-width="0.8"/>
<line x1="264" y1="301.94" x2="265.6" y2="301.94" stroke="#999" stroke-width="0.8"/>
<line x1="261.8" y1="296.18" x2="265.8" y2="296.18" stroke="#777" stroke-width="1"/>
<text x="257.6" y="299.03" font-size="8.3" text-anchor="end" fill="#222">20</text>
<line x1="264" y1="290.43" x2="265.6" y2="290.43" stroke="#999" stroke-width="0.8"/>
<line x1="264" y1="284.67" x2="265.6" y2="284.67" stroke="#999" stroke-width="0.8"/>
<line x1="264" y1="278.91" x2="265.6" y2="278.91" stroke="#999" stroke-width="0.8"/>
<line x1="261.8" y1="273.16" x2="265.8" y2="273.16" stroke="#777" stroke-width="1"/>
<text x="257.6" y="276.01" font-size="8.3" text-anchor="end" fill="#222">40</text>
<line x1="264" y1="267.4" x2="265.6" y2="267.4" stroke="#999" stroke-width="0.8"/>
<line x1="264" y1="261.65" x2="265.6" y2="261.65" stroke="#999" stroke-width="0.8"/>
<line x1="264" y1="255.89" x2="265.6" y2="255.89" stroke="#999" stroke-width="0.8"/>
<line x1="261.8" y1="250.14" x2="265.8" y2="250.14" stroke="#777" stroke-width="1"/>
<text x="257.6" y="252.99" font-size="8.3" text-anchor="end" fill="#222">60</text>
<line x1="264" y1="244.38" x2="265.6" y2="244.38" stroke="#999" stroke-width="0.8"/>
<line x1="264" y1="238.63" x2="265.6" y2="238.63" stroke="#999" stroke-width="0.8"/>
<line x1="264" y1="232.88" x2="265.6" y2="232.88" stroke="#999" stroke-width="0.8"/>
<line x1="261.8" y1="227.12" x2="265.8" y2="227.12" stroke="#777" stroke-width="1"/>
<text x="257.6" y="229.97" font-size="8.3" text-anchor="end" fill="#222">80</text>
<line x1="264" y1="221.36" x2="265.6" y2="221.36" stroke="#999" stroke-width="0.8"/>
<line x1="264" y1="215.61" x2="265.6" y2="215.61" stroke="#999" stroke-width="0.8"/>
<line x1="264" y1="209.85" x2="265.6" y2="209.85" stroke="#999" stroke-width="0.8"/>
<line x1="261.8" y1="204.1" x2="265.8" y2="204.1" stroke="#777" stroke-width="1"/>
<text x="257.6" y="206.95" font-size="8.3" text-anchor="end" fill="#222">100</text>
<line x1="264" y1="319.2" x2="264" y2="321.5" stroke="#888" stroke-width="0.9"/>
<line x1="282.77" y1="319.2" x2="282.77" y2="321.5" stroke="#888" stroke-width="0.9"/>
<line x1="301.54" y1="319.2" x2="301.54" y2="321.5" stroke="#888" stroke-width="0.9"/>
<line x1="320.31" y1="319.2" x2="320.31" y2="321.5" stroke="#888" stroke-width="0.9"/>
<line x1="339.08" y1="319.2" x2="339.08" y2="321.5" stroke="#888" stroke-width="0.9"/>
<line x1="357.85" y1="319.2" x2="357.85" y2="321.5" stroke="#888" stroke-width="0.9"/>
<line x1="376.62" y1="319.2" x2="376.62" y2="321.5" stroke="#888" stroke-width="0.9"/>
<line x1="395.39" y1="319.2" x2="395.39" y2="321.5" stroke="#888" stroke-width="0.9"/>
<line x1="414.16" y1="319.2" x2="414.16" y2="321.5" stroke="#888" stroke-width="0.9"/>
<line x1="432.93" y1="319.2" x2="432.93" y2="321.5" stroke="#888" stroke-width="0.9"/>
<line x1="451.7" y1="319.2" x2="451.7" y2="321.5" stroke="#888" stroke-width="0.9"/>
<text x="270.54" y="203.8" font-size="10.61" textLength="15.06" lengthAdjust="spacingAndGlyphs" fill="#222">IgG</text>
<text transform="translate(272.6 331) rotate(60)" x="0" y="0" font-size="8.6" fill="#222">0-1</text>
<text transform="translate(291.37 331) rotate(60)" x="0" y="0" font-size="8.6" fill="#222">0-4</text>
<text transform="translate(310.14 331) rotate(60)" x="0" y="0" font-size="8.6" fill="#222">0-7</text>
<text transform="translate(328.91 331) rotate(60)" x="0" y="0" font-size="8.6" fill="#222">0-10</text>
<text transform="translate(347.68 331) rotate(60)" x="0" y="0" font-size="8.6" fill="#222">0-13</text>
<text transform="translate(366.45 331) rotate(60)" x="0" y="0" font-size="8.6" fill="#222">0-16</text>
<text transform="translate(385.22 331) rotate(60)" x="0" y="0" font-size="8.6" fill="#222">0-19</text>
<text transform="translate(403.99 331) rotate(60)" x="0" y="0" font-size="8.6" fill="#222">0-22</text>
<text transform="translate(422.76 331) rotate(60)" x="0" y="0" font-size="8.6" fill="#222">0-25</text>
<text transform="translate(441.53 331) rotate(60)" x="0" y="0" font-size="8.6" fill="#222">ALL</text>
<line x1="267.5" y1="233" x2="348.4" y2="233" stroke="#aaa" stroke-width="1.2"/>
<path d="M264.5 233L268.8 230.7L268.8 235.3Z" fill="#000"/>
<line x1="267.5" y1="250" x2="348.4" y2="250" stroke="#aaa" stroke-width="1.2"/>
<path d="M264.5 250L268.8 247.7L268.8 252.3Z" fill="#000"/>
<line x1="348.4" y1="232.4" x2="348.4" y2="315.7" stroke="#aaa" stroke-width="1.2"/>
<path d="M348.4 319L346.3 314.7L350.5 314.7Z" fill="#000"/>
<path d="M273.4 308.6 C276.53 304.12 285.91 289.3 292.17 281.7 C298.43 274.1 304.68 268.62 310.94 263 C317.2 257.38 323.45 253.1 329.71 248 C335.97 242.9 342.22 237.1 348.48 232.4 C354.74 227.7 360.99 222.22 367.25 219.8 C373.51 217.38 379.76 219.45 386.02 217.9 C392.28 216.35 398.53 212.12 404.79 210.5 C411.05 208.88 417.3 209.33 423.56 208.2 C429.82 207.07 439.2 204.45 442.33 203.7" stroke="#000" stroke-width="1" fill="none"/>
<circle cx="273.4" cy="308.6" r="2.55" fill="#000"/>
<circle cx="292.17" cy="281.7" r="2.55" fill="#000"/>
<circle cx="310.94" cy="263" r="2.55" fill="#000"/>
<circle cx="329.71" cy="248" r="2.55" fill="#000"/>
<circle cx="348.48" cy="232.4" r="2.55" fill="#000"/>
<circle cx="367.25" cy="219.8" r="2.55" fill="#000"/>
<circle cx="386.02" cy="217.9" r="2.55" fill="#000"/>
<circle cx="404.79" cy="210.5" r="2.55" fill="#000"/>
<circle cx="423.56" cy="208.2" r="2.55" fill="#000"/>
<circle cx="442.33" cy="203.7" r="2.55" fill="#000"/>
<path d="M273.4 319.2 C276.53 318.5 285.91 318.17 292.17 315 C298.43 311.83 304.68 307.78 310.94 300.2 C317.2 292.62 323.45 279.2 329.71 269.5 C335.97 259.8 342.22 251.22 348.48 242 C354.74 232.78 360.99 219.27 367.25 214.2 C373.51 209.13 379.76 212 386.02 211.6 C392.28 211.2 398.53 211.67 404.79 211.8 C411.05 211.93 417.3 213.75 423.56 212.4 C429.82 211.05 439.2 205.15 442.33 203.7" stroke="#000" stroke-width="2" fill="none" stroke-dasharray="3.5 6"/>
<rect x="270.9" y="316.7" width="5" height="5" fill="#fff"/>
<path d="M271.2 317.2L275.6 321.2M275.6 317.2L271.2 321.2M273.4 317L273.4 321.4" stroke="#000" stroke-width="1.1" fill="none"/>
<rect x="289.67" y="312.5" width="5" height="5" fill="#fff"/>
<path d="M289.97 313L294.37 317M294.37 313L289.97 317M292.17 312.8L292.17 317.2" stroke="#000" stroke-width="1.1" fill="none"/>
<rect x="308.44" y="297.7" width="5" height="5" fill="#fff"/>
<path d="M308.74 298.2L313.14 302.2M313.14 298.2L308.74 302.2M310.94 298L310.94 302.4" stroke="#000" stroke-width="1.1" fill="none"/>
<rect x="327.21" y="267" width="5" height="5" fill="#fff"/>
<path d="M327.51 267.5L331.91 271.5M331.91 267.5L327.51 271.5M329.71 267.3L329.71 271.7" stroke="#000" stroke-width="1.1" fill="none"/>
<rect x="345.98" y="239.5" width="5" height="5" fill="#fff"/>
<path d="M346.28 240L350.68 244M350.68 240L346.28 244M348.48 239.8L348.48 244.2" stroke="#000" stroke-width="1.1" fill="none"/>
<rect x="364.75" y="211.7" width="5" height="5" fill="#fff"/>
<path d="M365.05 212.2L369.45 216.2M369.45 212.2L365.05 216.2M367.25 212L367.25 216.4" stroke="#000" stroke-width="1.1" fill="none"/>
<rect x="383.52" y="209.1" width="5" height="5" fill="#fff"/>
<path d="M383.82 209.6L388.22 213.6M388.22 209.6L383.82 213.6M386.02 209.4L386.02 213.8" stroke="#000" stroke-width="1.1" fill="none"/>
<rect x="402.29" y="209.3" width="5" height="5" fill="#fff"/>
<path d="M402.59 209.8L406.99 213.8M406.99 209.8L402.59 213.8M404.79 209.6L404.79 214" stroke="#000" stroke-width="1.1" fill="none"/>
<rect x="421.06" y="209.9" width="5" height="5" fill="#fff"/>
<path d="M421.36 210.4L425.76 214.4M425.76 210.4L421.36 214.4M423.56 210.2L423.56 214.6" stroke="#000" stroke-width="1.1" fill="none"/>
<rect x="439.83" y="201.2" width="5" height="5" fill="#fff"/>
<path d="M440.13 201.7L444.53 205.7M444.53 201.7L440.13 205.7M442.33 201.5L442.33 205.9" stroke="#000" stroke-width="1.1" fill="none"/>
<path d="M273.4 319.2 C276.53 318.53 285.91 316.17 292.17 315.2 C298.43 314.23 304.68 318.68 310.94 313.4 C317.2 308.12 323.45 294.1 329.71 283.5 C335.97 272.9 342.22 260.53 348.48 249.8 C354.74 239.07 360.99 225.48 367.25 219.1 C373.51 212.72 379.76 213.08 386.02 211.5 C392.28 209.92 398.53 210.22 404.79 209.6 C411.05 208.98 417.3 208.78 423.56 207.8 C429.82 206.82 439.2 204.38 442.33 203.7" stroke="#000" stroke-width="2.4" fill="none"/>
<rect x="271.25" y="317.05" width="4.3" height="4.3" fill="#fff" stroke="#000" stroke-width="1"/>
<rect x="290.02" y="313.05" width="4.3" height="4.3" fill="#fff" stroke="#000" stroke-width="1"/>
<rect x="308.79" y="311.25" width="4.3" height="4.3" fill="#fff" stroke="#000" stroke-width="1"/>
<rect x="327.56" y="281.35" width="4.3" height="4.3" fill="#fff" stroke="#000" stroke-width="1"/>
<rect x="346.33" y="247.65" width="4.3" height="4.3" fill="#fff" stroke="#000" stroke-width="1"/>
<rect x="365.1" y="216.95" width="4.3" height="4.3" fill="#fff" stroke="#000" stroke-width="1"/>
<rect x="383.87" y="209.35" width="4.3" height="4.3" fill="#fff" stroke="#000" stroke-width="1"/>
<rect x="402.64" y="207.45" width="4.3" height="4.3" fill="#fff" stroke="#000" stroke-width="1"/>
<rect x="421.41" y="205.65" width="4.3" height="4.3" fill="#fff" stroke="#000" stroke-width="1"/>
<rect x="440.18" y="201.55" width="4.3" height="4.3" fill="#fff" stroke="#000" stroke-width="1"/>
<text transform="translate(30.8 305.09) rotate(-90)" x="0" y="0" font-size="9.45" textLength="84.48" lengthAdjust="spacingAndGlyphs">% OF TOTAL SUBSET</text>
<text transform="translate(8.6 263.81) rotate(-90)" x="0" y="0" font-size="11.19" textLength="16.02" lengthAdjust="spacingAndGlyphs">T76</text>
<line x1="11.2" y1="248" x2="11.2" y2="263.7" stroke="#333" stroke-width="1.3"/>
<line x1="398.2" y1="264.8" x2="423.6" y2="264.8" stroke="#000" stroke-width="1"/>
<circle cx="411.1" cy="264.8" r="2.55" fill="#000"/>
<text x="425.39" y="267.6" font-size="8.14" textLength="15.9" lengthAdjust="spacingAndGlyphs" fill="#222">RO-</text>
<line x1="398.5" y1="277.5" x2="401.5" y2="277.5" stroke="#000" stroke-width="1.9"/>
<line x1="417.7" y1="277.5" x2="421" y2="277.5" stroke="#000" stroke-width="1.9"/>
<rect x="408.6" y="275" width="5" height="5" fill="#fff"/>
<path d="M408.9 275.5L413.3 279.5M413.3 275.5L408.9 279.5M411.1 275.3L411.1 279.7" stroke="#000" stroke-width="1.1" fill="none"/>
<text x="425.41" y="280.6" font-size="8.14" textLength="22.77" lengthAdjust="spacingAndGlyphs" fill="#222">RO+/-</text>
<line x1="398" y1="289.6" x2="424.4" y2="289.6" stroke="#000" stroke-width="2.4"/>
<circle cx="411.1" cy="289.6" r="2.4" fill="#fff" stroke="#000" stroke-width="1"/>
<text x="425.42" y="293.2" font-size="7.85" textLength="17.29" lengthAdjust="spacingAndGlyphs" fill="#222">RO+</text>
<line x1="56.5" y1="378.9" x2="56.5" y2="494" stroke="#666" stroke-width="1"/>
<line x1="56.5" y1="494" x2="244.2" y2="494" stroke="#666" stroke-width="1"/>
<line x1="54.3" y1="494" x2="58.3" y2="494" stroke="#777" stroke-width="1"/>
<text x="49.9" y="496.85" font-size="8.3" text-anchor="end" fill="#222">0</text>
<line x1="56.5" y1="488.26" x2="58.1" y2="488.26" stroke="#999" stroke-width="0.8"/>
<line x1="56.5" y1="482.52" x2="58.1" y2="482.52" stroke="#999" stroke-width="0.8"/>
<line x1="56.5" y1="476.78" x2="58.1" y2="476.78" stroke="#999" stroke-width="0.8"/>
<line x1="54.3" y1="471.04" x2="58.3" y2="471.04" stroke="#777" stroke-width="1"/>
<text x="49.9" y="473.89" font-size="8.3" text-anchor="end" fill="#222">20</text>
<line x1="56.5" y1="465.3" x2="58.1" y2="465.3" stroke="#999" stroke-width="0.8"/>
<line x1="56.5" y1="459.56" x2="58.1" y2="459.56" stroke="#999" stroke-width="0.8"/>
<line x1="56.5" y1="453.82" x2="58.1" y2="453.82" stroke="#999" stroke-width="0.8"/>
<line x1="54.3" y1="448.08" x2="58.3" y2="448.08" stroke="#777" stroke-width="1"/>
<text x="49.9" y="450.93" font-size="8.3" text-anchor="end" fill="#222">40</text>
<line x1="56.5" y1="442.34" x2="58.1" y2="442.34" stroke="#999" stroke-width="0.8"/>
<line x1="56.5" y1="436.6" x2="58.1" y2="436.6" stroke="#999" stroke-width="0.8"/>
<line x1="56.5" y1="430.86" x2="58.1" y2="430.86" stroke="#999" stroke-width="0.8"/>
<line x1="54.3" y1="425.12" x2="58.3" y2="425.12" stroke="#777" stroke-width="1"/>
<text x="49.9" y="427.97" font-size="8.3" text-anchor="end" fill="#222">60</text>
<line x1="56.5" y1="419.38" x2="58.1" y2="419.38" stroke="#999" stroke-width="0.8"/>
<line x1="56.5" y1="413.64" x2="58.1" y2="413.64" stroke="#999" stroke-width="0.8"/>
<line x1="56.5" y1="407.9" x2="58.1" y2="407.9" stroke="#999" stroke-width="0.8"/>
<line x1="54.3" y1="402.16" x2="58.3" y2="402.16" stroke="#777" stroke-width="1"/>
<text x="49.9" y="405.01" font-size="8.3" text-anchor="end" fill="#222">80</text>
<line x1="56.5" y1="396.42" x2="58.1" y2="396.42" stroke="#999" stroke-width="0.8"/>
<line x1="56.5" y1="390.68" x2="58.1" y2="390.68" stroke="#999" stroke-width="0.8"/>
<line x1="56.5" y1="384.94" x2="58.1" y2="384.94" stroke="#999" stroke-width="0.8"/>
<line x1="54.3" y1="379.2" x2="58.3" y2="379.2" stroke="#777" stroke-width="1"/>
<text x="49.9" y="382.05" font-size="8.3" text-anchor="end" fill="#222">100</text>
<line x1="56.5" y1="494" x2="56.5" y2="496.3" stroke="#888" stroke-width="0.9"/>
<line x1="75.27" y1="494" x2="75.27" y2="496.3" stroke="#888" stroke-width="0.9"/>
<line x1="94.04" y1="494" x2="94.04" y2="496.3" stroke="#888" stroke-width="0.9"/>
<line x1="112.81" y1="494" x2="112.81" y2="496.3" stroke="#888" stroke-width="0.9"/>
<line x1="131.58" y1="494" x2="131.58" y2="496.3" stroke="#888" stroke-width="0.9"/>
<line x1="150.35" y1="494" x2="150.35" y2="496.3" stroke="#888" stroke-width="0.9"/>
<line x1="169.12" y1="494" x2="169.12" y2="496.3" stroke="#888" stroke-width="0.9"/>
<line x1="187.89" y1="494" x2="187.89" y2="496.3" stroke="#888" stroke-width="0.9"/>
<line x1="206.66" y1="494" x2="206.66" y2="496.3" stroke="#888" stroke-width="0.9"/>
<line x1="225.43" y1="494" x2="225.43" y2="496.3" stroke="#888" stroke-width="0.9"/>
<line x1="244.2" y1="494" x2="244.2" y2="496.3" stroke="#888" stroke-width="0.9"/>
<text x="63.37" y="378.9" font-size="10.03" textLength="15.08" lengthAdjust="spacingAndGlyphs" fill="#222">IgM</text>
<text transform="translate(65.3 506.4) rotate(60)" x="0" y="0" font-size="8.6" fill="#222">0-1</text>
<text transform="translate(84.07 506.4) rotate(60)" x="0" y="0" font-size="8.6" fill="#222">0-4</text>
<text transform="translate(102.84 506.4) rotate(60)" x="0" y="0" font-size="8.6" fill="#222">0-7</text>
<text transform="translate(121.61 506.4) rotate(60)" x="0" y="0" font-size="8.6" fill="#222">0-10</text>
<text transform="translate(140.38 506.4) rotate(60)" x="0" y="0" font-size="8.6" fill="#222">0-13</text>
<text transform="translate(159.15 506.4) rotate(60)" x="0" y="0" font-size="8.6" fill="#222">0-16</text>
<text transform="translate(177.92 506.4) rotate(60)" x="0" y="0" font-size="8.6" fill="#222">0-19</text>
<text transform="translate(196.69 506.4) rotate(60)" x="0" y="0" font-size="8.6" fill="#222">0-22</text>
<text transform="translate(215.46 506.4) rotate(60)" x="0" y="0" font-size="8.6" fill="#222">0-25</text>
<text transform="translate(234.23 506.4) rotate(60)" x="0" y="0" font-size="8.6" fill="#222">ALL</text>
<line x1="60" y1="399.3" x2="122.4" y2="399.3" stroke="#aaa" stroke-width="1.2"/>
<path d="M57 399.3L61.3 397L61.3 401.6Z" fill="#000"/>
<line x1="60" y1="424.3" x2="122.4" y2="424.3" stroke="#aaa" stroke-width="1.2"/>
<path d="M57 424.3L61.3 422L61.3 426.6Z" fill="#000"/>
<line x1="122.4" y1="398.7" x2="122.4" y2="490.5" stroke="#aaa" stroke-width="1.2"/>
<path d="M122.4 493.8L120.3 489.5L124.5 489.5Z" fill="#000"/>
<path d="M66.1 465.2 C69.23 461.75 78.61 451.98 84.87 444.5 C91.13 437.02 97.38 427.83 103.64 420.3 C109.9 412.77 116.15 402.8 122.41 399.3 C128.67 395.8 134.92 400.58 141.18 399.3 C147.44 398.02 153.69 393.58 159.95 391.6 C166.21 389.62 172.46 388.2 178.72 387.4 C184.98 386.6 191.23 386.7 197.49 386.8 C203.75 386.9 210 389.37 216.26 388 C222.52 386.63 231.9 380.17 235.03 378.6" stroke="#000" stroke-width="1" fill="none"/>
<circle cx="66.1" cy="465.2" r="2.55" fill="#000"/>
<circle cx="84.87" cy="444.5" r="2.55" fill="#000"/>
<circle cx="103.64" cy="420.3" r="2.55" fill="#000"/>
<circle cx="122.41" cy="399.3" r="2.55" fill="#000"/>
<circle cx="141.18" cy="399.3" r="2.55" fill="#000"/>
<circle cx="159.95" cy="391.6" r="2.55" fill="#000"/>
<circle cx="178.72" cy="387.4" r="2.55" fill="#000"/>
<circle cx="197.49" cy="386.8" r="2.55" fill="#000"/>
<circle cx="216.26" cy="388" r="2.55" fill="#000"/>
<circle cx="235.03" cy="378.6" r="2.55" fill="#000"/>
<path d="M66.1 469.7 C69.23 465.48 78.61 453.4 84.87 444.4 C91.13 435.4 97.38 421.8 103.64 415.7 C109.9 409.6 116.15 409.8 122.41 407.8 C128.67 405.8 134.92 405.13 141.18 403.7 C147.44 402.27 153.69 400.8 159.95 399.2 C166.21 397.6 172.46 396.83 178.72 394.1 C184.98 391.37 191.23 384.68 197.49 382.8 C203.75 380.92 210 383.5 216.26 382.8 C222.52 382.1 231.9 379.3 235.03 378.6" stroke="#000" stroke-width="2" fill="none" stroke-dasharray="3.5 6"/>
<rect x="63.6" y="467.2" width="5" height="5" fill="#fff"/>
<path d="M63.9 467.7L68.3 471.7M68.3 467.7L63.9 471.7M66.1 467.5L66.1 471.9" stroke="#000" stroke-width="1.1" fill="none"/>
<rect x="82.37" y="441.9" width="5" height="5" fill="#fff"/>
<path d="M82.67 442.4L87.07 446.4M87.07 442.4L82.67 446.4M84.87 442.2L84.87 446.6" stroke="#000" stroke-width="1.1" fill="none"/>
<rect x="101.14" y="413.2" width="5" height="5" fill="#fff"/>
<path d="M101.44 413.7L105.84 417.7M105.84 413.7L101.44 417.7M103.64 413.5L103.64 417.9" stroke="#000" stroke-width="1.1" fill="none"/>
<rect x="119.91" y="405.3" width="5" height="5" fill="#fff"/>
<path d="M120.21 405.8L124.61 409.8M124.61 405.8L120.21 409.8M122.41 405.6L122.41 410" stroke="#000" stroke-width="1.1" fill="none"/>
<rect x="138.68" y="401.2" width="5" height="5" fill="#fff"/>
<path d="M138.98 401.7L143.38 405.7M143.38 401.7L138.98 405.7M141.18 401.5L141.18 405.9" stroke="#000" stroke-width="1.1" fill="none"/>
<rect x="157.45" y="396.7" width="5" height="5" fill="#fff"/>
<path d="M157.75 397.2L162.15 401.2M162.15 397.2L157.75 401.2M159.95 397L159.95 401.4" stroke="#000" stroke-width="1.1" fill="none"/>
<rect x="176.22" y="391.6" width="5" height="5" fill="#fff"/>
<path d="M176.52 392.1L180.92 396.1M180.92 392.1L176.52 396.1M178.72 391.9L178.72 396.3" stroke="#000" stroke-width="1.1" fill="none"/>
<rect x="194.99" y="380.3" width="5" height="5" fill="#fff"/>
<path d="M195.29 380.8L199.69 384.8M199.69 380.8L195.29 384.8M197.49 380.6L197.49 385" stroke="#000" stroke-width="1.1" fill="none"/>
<rect x="213.76" y="380.3" width="5" height="5" fill="#fff"/>
<path d="M214.06 380.8L218.46 384.8M218.46 380.8L214.06 384.8M216.26 380.6L216.26 385" stroke="#000" stroke-width="1.1" fill="none"/>
<rect x="232.53" y="376.1" width="5" height="5" fill="#fff"/>
<path d="M232.83 376.6L237.23 380.6M237.23 376.6L232.83 380.6M235.03 376.4L235.03 380.8" stroke="#000" stroke-width="1.1" fill="none"/>
<path d="M66.1 475 C69.23 471.28 78.61 458.93 84.87 452.7 C91.13 446.47 97.38 442.4 103.64 437.6 C109.9 432.8 116.15 427.32 122.41 423.9 C128.67 420.48 134.92 419.32 141.18 417.1 C147.44 414.88 153.69 413.73 159.95 410.6 C166.21 407.47 172.46 401.47 178.72 398.3 C184.98 395.13 191.23 393.27 197.49 391.6 C203.75 389.93 210 390.47 216.26 388.3 C222.52 386.13 231.9 380.22 235.03 378.6" stroke="#000" stroke-width="2.4" fill="none"/>
<rect x="63.95" y="472.85" width="4.3" height="4.3" fill="#fff" stroke="#000" stroke-width="1"/>
<rect x="82.72" y="450.55" width="4.3" height="4.3" fill="#fff" stroke="#000" stroke-width="1"/>
<rect x="101.49" y="435.45" width="4.3" height="4.3" fill="#fff" stroke="#000" stroke-width="1"/>
<rect x="120.26" y="421.75" width="4.3" height="4.3" fill="#fff" stroke="#000" stroke-width="1"/>
<rect x="139.03" y="414.95" width="4.3" height="4.3" fill="#fff" stroke="#000" stroke-width="1"/>
<rect x="157.8" y="408.45" width="4.3" height="4.3" fill="#fff" stroke="#000" stroke-width="1"/>
<rect x="176.57" y="396.15" width="4.3" height="4.3" fill="#fff" stroke="#000" stroke-width="1"/>
<rect x="195.34" y="389.45" width="4.3" height="4.3" fill="#fff" stroke="#000" stroke-width="1"/>
<rect x="214.11" y="386.15" width="4.3" height="4.3" fill="#fff" stroke="#000" stroke-width="1"/>
<rect x="232.88" y="376.45" width="4.3" height="4.3" fill="#fff" stroke="#000" stroke-width="1"/>
<line x1="263.7" y1="378.5" x2="263.7" y2="493.8" stroke="#666" stroke-width="1"/>
<line x1="263.7" y1="493.8" x2="451.4" y2="493.8" stroke="#666" stroke-width="1"/>
<line x1="261.5" y1="493.8" x2="265.5" y2="493.8" stroke="#777" stroke-width="1"/>
<text x="257.2" y="496.65" font-size="8.3" text-anchor="end" fill="#222">0</text>
<line x1="263.7" y1="488.05" x2="265.3" y2="488.05" stroke="#999" stroke-width="0.8"/>
<line x1="263.7" y1="482.3" x2="265.3" y2="482.3" stroke="#999" stroke-width="0.8"/>
<line x1="263.7" y1="476.55" x2="265.3" y2="476.55" stroke="#999" stroke-width="0.8"/>
<line x1="261.5" y1="470.8" x2="265.5" y2="470.8" stroke="#777" stroke-width="1"/>
<text x="257.2" y="473.65" font-size="8.3" text-anchor="end" fill="#222">20</text>
<line x1="263.7" y1="465.05" x2="265.3" y2="465.05" stroke="#999" stroke-width="0.8"/>
<line x1="263.7" y1="459.3" x2="265.3" y2="459.3" stroke="#999" stroke-width="0.8"/>
<line x1="263.7" y1="453.55" x2="265.3" y2="453.55" stroke="#999" stroke-width="0.8"/>
<line x1="261.5" y1="447.8" x2="265.5" y2="447.8" stroke="#777" stroke-width="1"/>
<text x="257.2" y="450.65" font-size="8.3" text-anchor="end" fill="#222">40</text>
<line x1="263.7" y1="442.05" x2="265.3" y2="442.05" stroke="#999" stroke-width="0.8"/>
<line x1="263.7" y1="436.3" x2="265.3" y2="436.3" stroke="#999" stroke-width="0.8"/>
<line x1="263.7" y1="430.55" x2="265.3" y2="430.55" stroke="#999" stroke-width="0.8"/>
<line x1="261.5" y1="424.8" x2="265.5" y2="424.8" stroke="#777" stroke-width="1"/>
<text x="257.2" y="427.65" font-size="8.3" text-anchor="end" fill="#222">60</text>
<line x1="263.7" y1="419.05" x2="265.3" y2="419.05" stroke="#999" stroke-width="0.8"/>
<line x1="263.7" y1="413.3" x2="265.3" y2="413.3" stroke="#999" stroke-width="0.8"/>
<line x1="263.7" y1="407.55" x2="265.3" y2="407.55" stroke="#999" stroke-width="0.8"/>
<line x1="261.5" y1="401.8" x2="265.5" y2="401.8" stroke="#777" stroke-width="1"/>
<text x="257.2" y="404.65" font-size="8.3" text-anchor="end" fill="#222">80</text>
<line x1="263.7" y1="396.05" x2="265.3" y2="396.05" stroke="#999" stroke-width="0.8"/>
<line x1="263.7" y1="390.3" x2="265.3" y2="390.3" stroke="#999" stroke-width="0.8"/>
<line x1="263.7" y1="384.55" x2="265.3" y2="384.55" stroke="#999" stroke-width="0.8"/>
<line x1="261.5" y1="378.8" x2="265.5" y2="378.8" stroke="#777" stroke-width="1"/>
<text x="257.2" y="381.65" font-size="8.3" text-anchor="end" fill="#222">100</text>
<line x1="263.7" y1="493.8" x2="263.7" y2="496.1" stroke="#888" stroke-width="0.9"/>
<line x1="282.47" y1="493.8" x2="282.47" y2="496.1" stroke="#888" stroke-width="0.9"/>
<line x1="301.24" y1="493.8" x2="301.24" y2="496.1" stroke="#888" stroke-width="0.9"/>
<line x1="320.01" y1="493.8" x2="320.01" y2="496.1" stroke="#888" stroke-width="0.9"/>
<line x1="338.78" y1="493.8" x2="338.78" y2="496.1" stroke="#888" stroke-width="0.9"/>
<line x1="357.55" y1="493.8" x2="357.55" y2="496.1" stroke="#888" stroke-width="0.9"/>
<line x1="376.32" y1="493.8" x2="376.32" y2="496.1" stroke="#888" stroke-width="0.9"/>
<line x1="395.09" y1="493.8" x2="395.09" y2="496.1" stroke="#888" stroke-width="0.9"/>
<line x1="413.86" y1="493.8" x2="413.86" y2="496.1" stroke="#888" stroke-width="0.9"/>
<line x1="432.63" y1="493.8" x2="432.63" y2="496.1" stroke="#888" stroke-width="0.9"/>
<line x1="451.4" y1="493.8" x2="451.4" y2="496.1" stroke="#888" stroke-width="0.9"/>
<text x="270.56" y="379.1" font-size="10.32" textLength="14.73" lengthAdjust="spacingAndGlyphs" fill="#222">IgG</text>
<text transform="translate(272.3 506.4) rotate(60)" x="0" y="0" font-size="8.6" fill="#222">0-1</text>
<text transform="translate(291.07 506.4) rotate(60)" x="0" y="0" font-size="8.6" fill="#222">0-4</text>
<text transform="translate(309.84 506.4) rotate(60)" x="0" y="0" font-size="8.6" fill="#222">0-7</text>
<text transform="translate(328.61 506.4) rotate(60)" x="0" y="0" font-size="8.6" fill="#222">0-10</text>
<text transform="translate(347.38 506.4) rotate(60)" x="0" y="0" font-size="8.6" fill="#222">0-13</text>
<text transform="translate(366.15 506.4) rotate(60)" x="0" y="0" font-size="8.6" fill="#222">0-16</text>
<text transform="translate(384.92 506.4) rotate(60)" x="0" y="0" font-size="8.6" fill="#222">0-19</text>
<text transform="translate(403.69 506.4) rotate(60)" x="0" y="0" font-size="8.6" fill="#222">0-22</text>
<text transform="translate(422.46 506.4) rotate(60)" x="0" y="0" font-size="8.6" fill="#222">0-25</text>
<text transform="translate(441.23 506.4) rotate(60)" x="0" y="0" font-size="8.6" fill="#222">ALL</text>
<line x1="267.2" y1="413.7" x2="405.2" y2="413.7" stroke="#aaa" stroke-width="1.2"/>
<path d="M264.2 413.7L268.5 411.4L268.5 416Z" fill="#000"/>
<line x1="267.2" y1="428.4" x2="405.2" y2="428.4" stroke="#aaa" stroke-width="1.2"/>
<path d="M264.2 428.4L268.5 426.1L268.5 430.7Z" fill="#000"/>
<line x1="405.2" y1="413.1" x2="405.2" y2="490.3" stroke="#aaa" stroke-width="1.2"/>
<path d="M405.2 493.6L403.1 489.3L407.3 489.3Z" fill="#000"/>
<path d="M273.1 488 C276.23 486.05 285.61 481.25 291.87 476.3 C298.13 471.35 304.38 464.27 310.64 458.3 C316.9 452.33 323.15 444.92 329.41 440.5 C335.67 436.08 341.92 434.02 348.18 431.8 C354.44 429.58 360.69 429.47 366.95 427.2 C373.21 424.93 379.46 420.42 385.72 418.2 C391.98 415.98 398.23 414.83 404.49 413.9 C410.75 412.97 417 418.5 423.26 412.6 C429.52 406.7 438.9 384.18 442.03 378.5" stroke="#000" stroke-width="1" fill="none"/>
<circle cx="273.1" cy="488" r="2.55" fill="#000"/>
<circle cx="291.87" cy="476.3" r="2.55" fill="#000"/>
<circle cx="310.64" cy="458.3" r="2.55" fill="#000"/>
<circle cx="329.41" cy="440.5" r="2.55" fill="#000"/>
<circle cx="348.18" cy="431.8" r="2.55" fill="#000"/>
<circle cx="366.95" cy="427.2" r="2.55" fill="#000"/>
<circle cx="385.72" cy="418.2" r="2.55" fill="#000"/>
<circle cx="404.49" cy="413.9" r="2.55" fill="#000"/>
<circle cx="423.26" cy="412.6" r="2.55" fill="#000"/>
<circle cx="442.03" cy="378.5" r="2.55" fill="#000"/>
<path d="M273.1 493.6 C276.23 492.67 285.61 492.2 291.87 488 C298.13 483.8 304.38 474.4 310.64 468.4 C316.9 462.4 323.15 455.82 329.41 452 C335.67 448.18 341.92 447.95 348.18 445.5 C354.44 443.05 360.69 440.47 366.95 437.3 C373.21 434.13 379.46 429.9 385.72 426.5 C391.98 423.1 398.23 420.07 404.49 416.9 C410.75 413.73 417 413.9 423.26 407.5 C429.52 401.1 438.9 383.33 442.03 378.5" stroke="#000" stroke-width="2" fill="none" stroke-dasharray="3.5 6"/>
<rect x="270.6" y="491.1" width="5" height="5" fill="#fff"/>
<path d="M270.9 491.6L275.3 495.6M275.3 491.6L270.9 495.6M273.1 491.4L273.1 495.8" stroke="#000" stroke-width="1.1" fill="none"/>
<rect x="289.37" y="485.5" width="5" height="5" fill="#fff"/>
<path d="M289.67 486L294.07 490M294.07 486L289.67 490M291.87 485.8L291.87 490.2" stroke="#000" stroke-width="1.1" fill="none"/>
<rect x="308.14" y="465.9" width="5" height="5" fill="#fff"/>
<path d="M308.44 466.4L312.84 470.4M312.84 466.4L308.44 470.4M310.64 466.2L310.64 470.6" stroke="#000" stroke-width="1.1" fill="none"/>
<rect x="326.91" y="449.5" width="5" height="5" fill="#fff"/>
<path d="M327.21 450L331.61 454M331.61 450L327.21 454M329.41 449.8L329.41 454.2" stroke="#000" stroke-width="1.1" fill="none"/>
<rect x="345.68" y="443" width="5" height="5" fill="#fff"/>
<path d="M345.98 443.5L350.38 447.5M350.38 443.5L345.98 447.5M348.18 443.3L348.18 447.7" stroke="#000" stroke-width="1.1" fill="none"/>
<rect x="364.45" y="434.8" width="5" height="5" fill="#fff"/>
<path d="M364.75 435.3L369.15 439.3M369.15 435.3L364.75 439.3M366.95 435.1L366.95 439.5" stroke="#000" stroke-width="1.1" fill="none"/>
<rect x="383.22" y="424" width="5" height="5" fill="#fff"/>
<path d="M383.52 424.5L387.92 428.5M387.92 424.5L383.52 428.5M385.72 424.3L385.72 428.7" stroke="#000" stroke-width="1.1" fill="none"/>
<rect x="401.99" y="414.4" width="5" height="5" fill="#fff"/>
<path d="M402.29 414.9L406.69 418.9M406.69 414.9L402.29 418.9M404.49 414.7L404.49 419.1" stroke="#000" stroke-width="1.1" fill="none"/>
<rect x="420.76" y="405" width="5" height="5" fill="#fff"/>
<path d="M421.06 405.5L425.46 409.5M425.46 405.5L421.06 409.5M423.26 405.3L423.26 409.7" stroke="#000" stroke-width="1.1" fill="none"/>
<rect x="439.53" y="376" width="5" height="5" fill="#fff"/>
<path d="M439.83 376.5L444.23 380.5M444.23 376.5L439.83 380.5M442.03 376.3L442.03 380.7" stroke="#000" stroke-width="1.1" fill="none"/>
<path d="M273.1 487.8 C276.23 487.8 285.61 488.08 291.87 487.8 C298.13 487.52 304.38 488.15 310.64 486.1 C316.9 484.05 323.15 479.55 329.41 475.5 C335.67 471.45 341.92 465.68 348.18 461.8 C354.44 457.92 360.69 455.8 366.95 452.2 C373.21 448.6 379.46 444.18 385.72 440.2 C391.98 436.22 398.23 433.03 404.49 428.3 C410.75 423.57 417 420.13 423.26 411.8 C429.52 403.47 438.9 383.88 442.03 378.3" stroke="#000" stroke-width="2.4" fill="none"/>
<rect x="270.95" y="485.65" width="4.3" height="4.3" fill="#fff" stroke="#000" stroke-width="1"/>
<rect x="289.72" y="485.65" width="4.3" height="4.3" fill="#fff" stroke="#000" stroke-width="1"/>
<rect x="308.49" y="483.95" width="4.3" height="4.3" fill="#fff" stroke="#000" stroke-width="1"/>
<rect x="327.26" y="473.35" width="4.3" height="4.3" fill="#fff" stroke="#000" stroke-width="1"/>
<rect x="346.03" y="459.65" width="4.3" height="4.3" fill="#fff" stroke="#000" stroke-width="1"/>
<rect x="364.8" y="450.05" width="4.3" height="4.3" fill="#fff" stroke="#000" stroke-width="1"/>
<rect x="383.57" y="438.05" width="4.3" height="4.3" fill="#fff" stroke="#000" stroke-width="1"/>
<rect x="402.34" y="426.15" width="4.3" height="4.3" fill="#fff" stroke="#000" stroke-width="1"/>
<rect x="421.11" y="409.65" width="4.3" height="4.3" fill="#fff" stroke="#000" stroke-width="1"/>
<rect x="439.88" y="376.15" width="4.3" height="4.3" fill="#fff" stroke="#000" stroke-width="1"/>
<text transform="translate(31.2 479.59) rotate(-90)" x="0" y="0" font-size="9.59" textLength="83.77" lengthAdjust="spacingAndGlyphs">% OF TOTAL SUBSET</text>
<text transform="translate(8.4 439.21) rotate(-90)" x="0" y="0" font-size="12.5" textLength="16.43" lengthAdjust="spacingAndGlyphs">T78</text>
<line x1="10.4" y1="422.6" x2="10.4" y2="439.1" stroke="#333" stroke-width="1.3"/>
<text x="112.43" y="532.4" font-size="8.14" textLength="73.92" lengthAdjust="spacingAndGlyphs" fill="#222">MUTATION RANGE</text>
<text x="320.74" y="531.4" font-size="8.14" textLength="72.5" lengthAdjust="spacingAndGlyphs" fill="#222">MUTATION RANGE</text>
</svg>
</body></html>
